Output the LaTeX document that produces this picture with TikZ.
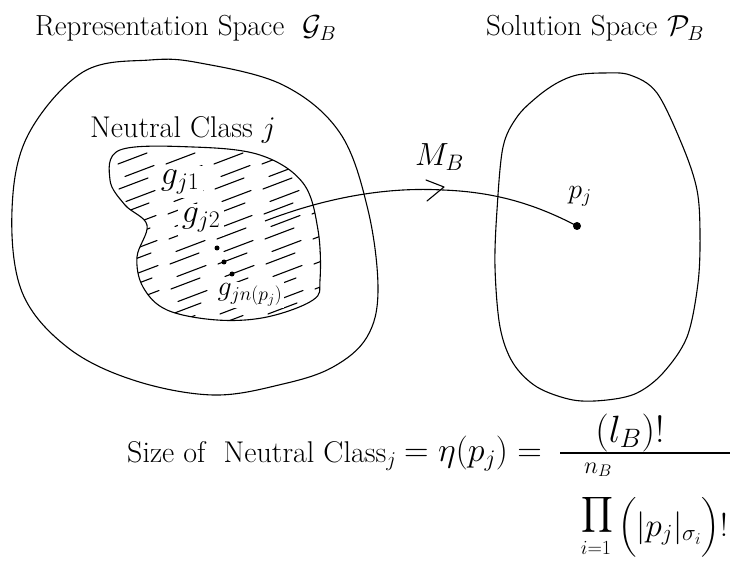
\RequirePackage{fix-cm}
\documentclass[tikz,border=0pt]{standalone}
\usepackage{fontspec}
\usepackage{amsmath}
\tikzset{
  blob/.style={draw=black, line width=1.1pt},
  hatch/.style={draw=black, line width=1.1pt, line cap=round},
  conn/.style={draw=black, line width=1.1pt},
  title/.style={font=\fontsize{29}{34}\selectfont, anchor=base west, inner sep=0pt},
  glabel/.style={font=\fontsize{34}{38}\selectfont, fill=white, inner sep=4pt},
  formula/.style={font=\fontsize{30}{34}\selectfont, anchor=base west, inner sep=0pt},
  bigdot/.style={circle, fill=black, inner sep=0pt, minimum size=8pt},
  smalldot/.style={circle, fill=black, inner sep=0pt, minimum size=5pt}
}
\begin{document}
\begin{tikzpicture}[x=1pt,y=-1pt]
\useasboundingbox (0,0) rectangle (752,561);

% titles
\node[title] (reptitle) at (35,36) {Representation Space\hspace{18pt}$\mathcal{G}_B$};
\node[title] (soltitle) at (486,36) {Solution Space\hspace{10pt}$\mathcal{P}_B$};

% outer left blob (representation space)
\draw[blob] plot[smooth cycle, tension=0.6] coordinates {
  (12,210) (28,135) (83,72) (150,60) (200,63) (283,85) (340,133)
  (368,210) (378,290) (367,337) (333,367) (283,384) (213,395)
  (133,380) (67,347) (22,292)};

% right blob (solution space)
\draw[blob] plot[smooth cycle, tension=0.55] coordinates {
  (577,75) (603,73) (630,75) (657,93) (683,147) (697,190) (700,233)
  (698,283) (687,337) (663,373) (637,393) (607,400) (573,400) (537,387)
  (513,363) (500,327) (495,267) (497,210) (503,147) (517,117) (537,97) (557,83)};

% hatching of the neutral class
\begin{scope}
  \clip plot[smooth cycle, tension=0.6] coordinates {
    (120,150) (193,147) (260,155) (303,183) (318,230) (320,280) (313,300)
    (267,317) (217,320) (167,310) (143,287) (137,257) (147,225) (125,205) (110,180)};
  \foreach \r in {0,...,14} {
    \foreach \c in {0,...,6} {
      \pgfmathsetmacro\xx{70+\c*48+mod(\r*7,13)}
      \pgfmathsetmacro\yy{164+\r*12.5}
      \draw[hatch] (\xx,\yy) -- ++(29,-11);
    }
  }
\end{scope}

% neutral class outline
\draw[blob] plot[smooth cycle, tension=0.6] coordinates {
  (120,150) (193,147) (260,155) (303,183) (318,230) (320,280) (313,300)
  (267,317) (217,320) (167,310) (143,287) (137,257) (147,225) (125,205) (110,180)};

% neutral class title
\node[title, font=\fontsize{30}{34}\selectfont] (nctitle) at (90,138) {Neutral Class $j$};

% genotypes
\node[glabel] (g1) at (180,182) {$g_{j1}$};
\node[glabel] (g2) at (201,220) {$g_{j2}$};
\node[smalldot] (d1) at (217,248) {};
\node[smalldot] (d2) at (224,262) {};
\node[smalldot] (d3) at (232,274) {};
\node[glabel, font=\fontsize{28}{32}\selectfont, inner sep=2pt] (gn) at (250,295) {$g_{jn(p_j)}$};

% mapping
\coordinate (mstart) at (265,221);
\coordinate (mmid) at (443,190);
\node[bigdot] (pj) at (577,226) {};
\node[font=\fontsize{28}{32}\selectfont, inner sep=0pt] (pjlabel) at (580,196) {$p_j$};
\draw[conn] (mstart) .. controls (330,196) and (390,187) .. (mmid)
  .. controls (495,192) and (535,204) .. (pj.center);
\draw[conn, line cap=round, line join=round] (426,180) -- (444,187) -- (427,201);
\node[font=\fontsize{32}{36}\selectfont, anchor=base west, inner sep=0pt] (mb) at (415,166) {$M_B$};

% formula
\node[formula] (sizeof) at (127,462) {Size of \ Neutral Class$_j$};
\node[formula, font=\fontsize{34}{38}\selectfont] (eq) at (404,461) {$=\eta(p_j)=$};
\coordinate (barl) at (560,453);
\coordinate (barr) at (730,453);
\draw[conn] (barl) -- (barr);
\node[formula, anchor=base, font=\fontsize{38}{42}\selectfont] (num) at (630,442) {$(l_B)!$};
\node[font=\fontsize{24}{28}\selectfont, inner sep=0pt] (nb) at (598,470) {$n_B$};
\node[font=\fontsize{33}{36}\selectfont, inner sep=0pt] (prod) at (597,515) {$\displaystyle\prod$};
\node[font=\fontsize{20}{24}\selectfont, inner sep=0pt] (ione) at (596,548) {$i{=}1$};
\node[formula, anchor=base west, font=\fontsize{33}{36}\selectfont] (den) at (618,536) {$\Bigl(|p_j|_{\sigma_i}\Bigr)!$};
\end{tikzpicture}
\end{document}
